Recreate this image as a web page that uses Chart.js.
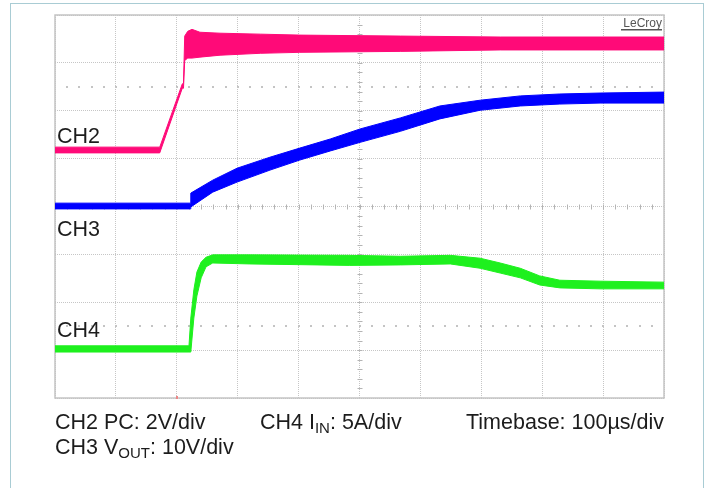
<!DOCTYPE html>
<html>
<head>
<meta charset="utf-8">
<script src="https://cdn.jsdelivr.net/npm/chart.js@4.4.0/dist/chart.umd.min.js"></script>
<style>
  html, body { margin: 0; padding: 0; background: #fff; }
  #wrap { position: relative; width: 709px; height: 488px; overflow: hidden; }
  #frame { position: absolute; left: 10px; top: 3px; width: 694px; height: 520px;
           border: 1.5px solid #a9ccd4; box-sizing: border-box; }
  #scope { position: absolute; left: 0; top: 0; }
</style>
</head>
<body>
<div id="wrap">
  <div id="frame"></div>
  <canvas id="scope" width="709" height="488"></canvas>
</div>
<script>
// ====== DATA (time in µs, level in screen divisions, 0 = bottom) ======
const timeCH2   = [0, 172, 209, 211, 213, 218, 225, 238, 271, 337, 402, 567, 731, 1000];
const ch2Top    = [5.24, 5.24, 6.56, 6.58, 7.56, 7.66, 7.70, 7.64, 7.62, 7.60, 7.58, 7.56, 7.54, 7.54];
const ch2Bottom = [5.12, 5.12, 6.47, 6.47, 7.05, 7.10, 7.10, 7.12, 7.16, 7.20, 7.22, 7.24, 7.27, 7.27];

const timeCH3   = [0, 222, 223, 259, 299, 353, 402, 452, 501, 567, 632, 698, 764, 829, 895, 1000];
const ch3Top    = [4.07, 4.07, 4.28, 4.55, 4.80, 5.03, 5.22, 5.41, 5.62, 5.85, 6.10, 6.22, 6.31, 6.35, 6.37, 6.39];
const ch3Bottom = [3.95, 3.95, 3.99, 4.30, 4.51, 4.76, 4.97, 5.16, 5.34, 5.57, 5.83, 6.01, 6.10, 6.14, 6.16, 6.16];

const timeCH4   = [0, 220, 223, 228, 233, 240, 248, 259, 320, 484, 567, 649, 698, 731, 764, 796, 829, 895, 1000];
const ch4Top    = [1.09, 1.09, 1.67, 2.26, 2.63, 2.84, 2.94, 2.99, 2.99, 2.98, 2.96, 2.98, 2.92, 2.82, 2.71, 2.55, 2.46, 2.44, 2.42];
const ch4Bottom = [0.96, 0.96, 0.96, 1.67, 2.13, 2.51, 2.74, 2.82, 2.80, 2.77, 2.78, 2.80, 2.71, 2.61, 2.51, 2.36, 2.30, 2.28, 2.28];

const channelNames  = ["CH2", "CH3", "CH4"];
const channelLevels = [5.5, 3.55, 1.45];   // where the CHx tags sit (divisions)
const X_DIVS = [0, 1000, 100];            // min, max, step (µs)
const Y_DIVS = [0, 8, 1];

// ====== HELPERS ======
const FONT = '"Liberation Sans", Arial, Helvetica, sans-serif';
const toPts = (t, v) => t.map((x, i) => ({ x, y: v[i] }));

function band(label, t, top, bottom, color) {
  return [
    { label: label + " low", data: toPts(t, bottom), borderColor: color, backgroundColor: color, fill: false },
    { label: label + " high", data: toPts(t, top), borderColor: color, backgroundColor: color, fill: "-1" }
  ];
}

function richText(ctx, x, y, parts, align) {
  const widths = parts.map(p => {
    ctx.font = (p.sub ? "15px " : "21.5px ") + FONT;
    return ctx.measureText(p.t).width;
  });
  let cx = align === "right" ? x - widths.reduce((a, b) => a + b, 0) : x;
  parts.forEach((p, i) => {
    ctx.font = (p.sub ? "15px " : "21.5px ") + FONT;
    ctx.fillText(p.t, cx, p.sub ? y + 4 : y);
    cx += widths[i];
  });
}

// ====== PLUGINS ======
const scopeDecor = {
  id: "scopeDecor",
  beforeDatasetsDraw(chart) {
    const { ctx, chartArea: a, scales: { x, y } } = chart;
    ctx.save();
    // outer frame
    ctx.strokeStyle = "#c4c4c4";
    ctx.lineWidth = 1.5;
    ctx.strokeRect(a.left, a.top, a.right - a.left, a.bottom - a.top);
    // minor ticks on center axes
    ctx.strokeStyle = "#b4b4b4";
    ctx.lineWidth = 1;
    const yc = y.getPixelForValue(4), xc = x.getPixelForValue(500);
    ctx.beginPath();
    for (let t = 20; t < 1000; t += 20) {
      const px = Math.round(x.getPixelForValue(t)) + 0.5;
      ctx.moveTo(px, yc - 2); ctx.lineTo(px, yc + 3);
    }
    for (let v = 0.2; v < 8; v += 0.2) {
      const py = Math.round(y.getPixelForValue(v)) + 0.5;
      ctx.moveTo(xc - 2, py); ctx.lineTo(xc + 3, py);
    }
    ctx.stroke();
    // dotted rows
    ctx.fillStyle = "#c4c4c4";
    [1.5, 6.5].forEach(v => {
      const py = Math.round(y.getPixelForValue(v));
      for (let t = 20; t < 1000; t += 20) {
        ctx.fillRect(Math.round(x.getPixelForValue(t)) - 1, py - 1, 2, 2);
      }
    });
    // trigger marker
    ctx.fillStyle = "#e88";
    ctx.fillRect(Math.round(x.getPixelForValue(200)) - 1, a.bottom - 2, 2, 3);
    ctx.restore();
  },
  afterDraw(chart) {
    const { ctx, chartArea: a, scales: { y } } = chart;
    ctx.save();
    ctx.fillStyle = "#1c1c1c";
    ctx.textBaseline = "alphabetic";
    ctx.font = "21.5px " + FONT;
    channelNames.forEach((n, i) => ctx.fillText(n, a.left + 2, Math.round(y.getPixelForValue(channelLevels[i])) + 8));
    const b1 = a.bottom + 31, b2 = b1 + 25;
    richText(ctx, a.left, b1, [{ t: "CH2 PC: 2V/div" }]);
    richText(ctx, a.left + 205, b1, [{ t: "CH4 I" }, { t: "IN", sub: true }, { t: ": 5A/div" }]);
    richText(ctx, a.right, b1, [{ t: "Timebase: 100µs/div" }], "right");
    richText(ctx, a.left, b2, [{ t: "CH3 V" }, { t: "OUT", sub: true }, { t: ": 10V/div" }]);
    // LeCroy tag
    ctx.font = "12px " + FONT;
    ctx.fillStyle = "#555";
    ctx.textAlign = "right";
    ctx.fillText("LeCroy", a.right - 2, a.top + 12);
    ctx.fillRect(a.right - 43, a.top + 14, 41, 1.5);
    ctx.restore();
  }
};

// ====== CHART ======
const gridStyle = { color: "#c6c6c6", lineWidth: 1, drawTicks: false };
new Chart(document.getElementById("scope"), {
  type: "line",
  data: {
    datasets: [
      ...band("CH2", timeCH2, ch2Top, ch2Bottom, "#ff0a78"),
      ...band("CH3", timeCH3, ch3Top, ch3Bottom, "#0000ff"),
      ...band("CH4", timeCH4, ch4Top, ch4Bottom, "#1ef01e")
    ]
  },
  options: {
    responsive: false,
    animation: false,
    layout: { padding: { left: 55, top: 15, right: 45, bottom: 90 } },
    elements: { point: { radius: 0 }, line: { tension: 0, borderWidth: 1 } },
    plugins: { legend: { display: false }, tooltip: { enabled: false } },
    scales: {
      x: { type: "linear", min: X_DIVS[0], max: X_DIVS[1],
           ticks: { display: false, stepSize: X_DIVS[2] },
           grid: gridStyle, border: { display: false, dash: [1, 1] } },
      y: { type: "linear", min: Y_DIVS[0], max: Y_DIVS[1],
           ticks: { display: false, stepSize: Y_DIVS[2] },
           grid: gridStyle, border: { display: false, dash: [1, 1] } }
    }
  },
  plugins: [scopeDecor]
});
</script>
</body>
</html>
